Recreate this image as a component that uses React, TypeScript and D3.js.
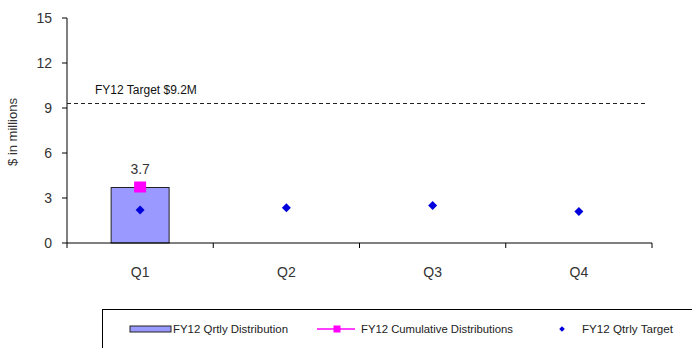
import { useEffect, useRef } from "react"
import * as d3 from "d3"

const quarters = ["Q1", "Q2", "Q3", "Q4"]
const qtrlyDistribution = [3.7, null, null, null]
const cumulativeDistributions = [3.7, null, null, null]
const qtrlyTarget = [2.2, 2.35, 2.5, 2.1]
const yTicks = [0, 3, 6, 9, 12, 15]
const fyTarget = 9.3
const fyTargetLabel = "FY12 Target $9.2M"
const legendLabels = ["FY12 Qrtly Distribution", "FY12 Cumulative Distributions", "FY12 Qtrly Target"]

const W = 692
const H = 348
const font = "Arial, 'Liberation Sans', sans-serif"

export default function App() {
  const svgRef = useRef<SVGSVGElement>(null)

  useEffect(() => {
    if (!svgRef.current) return
    const svg = d3.select(svgRef.current)
    svg.selectAll("*").remove()

    const x = d3.scaleBand().domain(quarters).range([67, 652]).paddingInner(0).paddingOuter(0)
    const y = d3.scaleLinear().domain([0, 15]).range([243, 18])

    const g = svg.append("g")

    // y axis
    g.append("line").attr("x1", 67).attr("x2", 67).attr("y1", y(15)).attr("y2", y(0)).attr("stroke", "#000")
    yTicks.forEach((t) => {
      g.append("line").attr("x1", 62).attr("x2", 67).attr("y1", y(t)).attr("y2", y(t)).attr("stroke", "#000")
      g.append("text")
        .attr("x", 52)
        .attr("y", y(t))
        .attr("dy", "0.36em")
        .attr("text-anchor", "end")
        .attr("font-family", font)
        .attr("font-size", 14)
        .attr("fill", "#333")
        .text(t)
    })

    g.append("text")
      .attr("transform", `translate(17,132) rotate(-90)`)
      .attr("text-anchor", "middle")
      .attr("font-family", font)
      .attr("font-size", 13)
      .attr("fill", "#333")
      .text("$ in millions")

    // target line
    g.append("line")
      .attr("x1", 67)
      .attr("x2", 648)
      .attr("y1", y(fyTarget))
      .attr("y2", y(fyTarget))
      .attr("stroke", "#222")
      .attr("stroke-dasharray", "4,3")
    g.append("text")
      .attr("x", 95)
      .attr("y", 94)
      .attr("font-family", font)
      .attr("font-size", 12)
      .attr("fill", "#111")
      .text(fyTargetLabel)

    // bars
    const bw = 58
    quarters.forEach((q, i) => {
      const v = qtrlyDistribution[i]
      if (v == null) return
      const cx = x(q)! + x.bandwidth() / 2
      g.append("rect")
        .attr("x", cx - bw / 2)
        .attr("y", y(v))
        .attr("width", bw)
        .attr("height", y(0) - y(v))
        .attr("fill", "#9999ff")
        .attr("stroke", "#222")
        .attr("stroke-width", 1)
      g.append("text")
        .attr("x", cx)
        .attr("y", y(v) - 14)
        .attr("text-anchor", "middle")
        .attr("font-family", font)
        .attr("font-size", 14)
        .attr("fill", "#333")
        .text(v.toFixed(1))
    })

    // x axis
    g.append("line").attr("x1", 67).attr("x2", 652).attr("y1", y(0)).attr("y2", y(0)).attr("stroke", "#000")
    const edges = [...quarters.map((q) => x(q)!), 652]
    edges.forEach((e) => {
      g.append("line").attr("x1", e).attr("x2", e).attr("y1", y(0)).attr("y2", y(0) + 5).attr("stroke", "#000")
    })
    quarters.forEach((q) => {
      g.append("text")
        .attr("x", x(q)! + x.bandwidth() / 2)
        .attr("y", 272)
        .attr("dy", "0.36em")
        .attr("text-anchor", "middle")
        .attr("font-family", font)
        .attr("font-size", 14)
        .attr("fill", "#333")
        .text(q)
    })

    // targets (diamonds = rotated squares)
    const diamond = d3.symbol().type(d3.symbolSquare).size(40)
    quarters.forEach((q, i) => {
      g.append("path")
        .attr("d", diamond()!)
        .attr("transform", `translate(${x(q)! + x.bandwidth() / 2},${y(qtrlyTarget[i])}) rotate(45)`)
        .attr("fill", "#0000dd")
    })

    // cumulative
    quarters.forEach((q, i) => {
      const v = cumulativeDistributions[i]
      if (v == null) return
      const cx = x(q)! + x.bandwidth() / 2
      g.append("rect")
        .attr("x", cx - 6)
        .attr("y", y(v) - 6)
        .attr("width", 12)
        .attr("height", 11)
        .attr("fill", "#ff00ff")
    })

    // legend
    const lg = svg.append("g")
    lg.append("rect")
      .attr("x", 102.5)
      .attr("y", 309.5)
      .attr("width", 600)
      .attr("height", 50)
      .attr("fill", "#fff")
      .attr("stroke", "#000")
    const ly = 329
    lg.append("rect").attr("x", 130).attr("y", ly - 3).attr("width", 41).attr("height", 6).attr("fill", "#9999ff").attr("stroke", "#222")
    lg.append("line").attr("x1", 317).attr("x2", 355).attr("y1", ly).attr("y2", ly).attr("stroke", "#ff00ff").attr("stroke-width", 1.5)
    lg.append("rect").attr("x", 333.5).attr("y", ly - 3.5).attr("width", 7).attr("height", 7).attr("fill", "#ff00ff")
    lg.append("path")
      .attr("d", d3.symbol().type(d3.symbolSquare).size(16)()!)
      .attr("transform", `translate(562,${ly}) rotate(45)`)
      .attr("fill", "#0000dd")
    const lx = [173, 361, 582]
    const lw = [115, 152, 91]
    legendLabels.forEach((t, i) => {
      lg.append("text")
        .attr("x", lx[i])
        .attr("y", ly)
        .attr("dy", "0.36em")
        .attr("font-family", font)
        .attr("font-size", 11)
        .attr("textLength", lw[i])
        .attr("lengthAdjust", "spacingAndGlyphs")
        .attr("fill", "#222")
        .text(t)
    })
  }, [])

  return (
    <div style={{ position: "absolute", left: 0, top: 0, width: W, height: H, background: "#fff" }}>
      <svg ref={svgRef} width={W} height={H}></svg>
    </div>
  )
}
